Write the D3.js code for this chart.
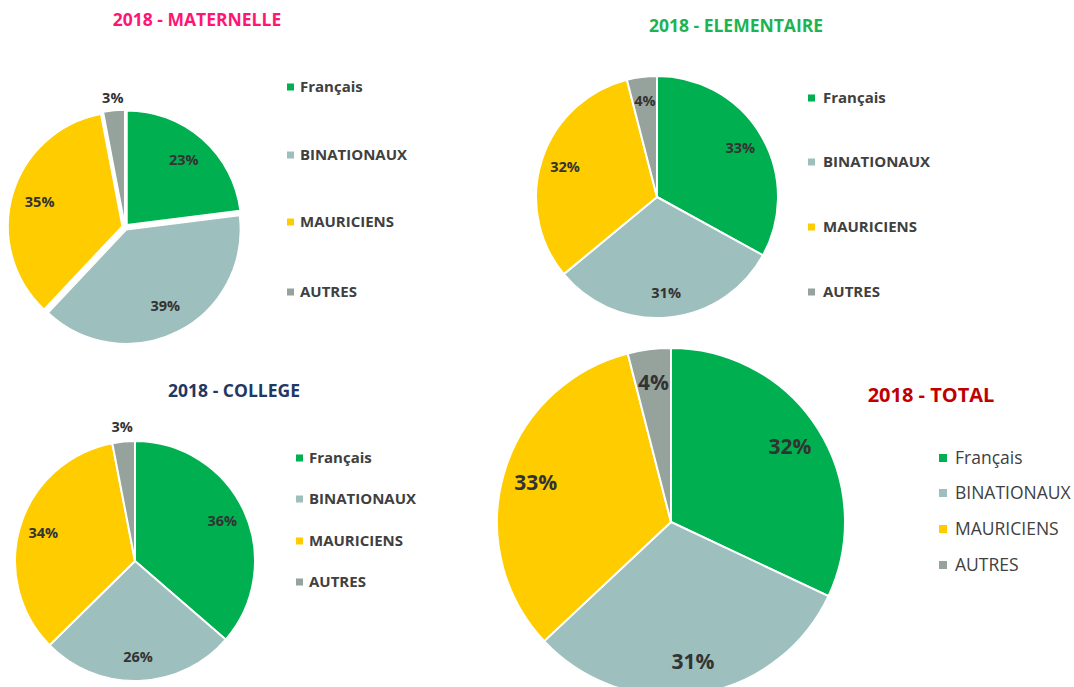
<!DOCTYPE html>
<html>
<head>
<meta charset="utf-8">
<script src="https://cdn.jsdelivr.net/npm/d3@7"></script>
<style>
    body { margin: 0; background: #fff; }
    svg { display: block; font-family: "Open Sans", sans-serif; }
</style>
</head>
<body>
<div id="chart"></div>
<script>
// DATA
const categories = ["Français", "BINATIONAUX", "MAURICIENS", "AUTRES"];
const colors = ["#00B050", "#9DBFBD", "#FFCC00", "#95A39C"];

const maternelle = [23, 39, 35, 3];
const elementaire = [33, 31, 32, 4];
const college = [36, 26, 34, 3];
const total = [32, 31, 33, 4];

const titles = ["2018 - MATERNELLE", "2018 - ELEMENTAIRE", "2018 - COLLEGE", "2018 - TOTAL"];

const svg = d3.select("#chart")
    .append("svg")
    .attr("width", 1074)
    .attr("height", 687);

const color = d3.scaleOrdinal().domain(categories).range(colors);

function drawPie(values, opt) {
    const pie = d3.pie().sort(null);
    const arcs = pie(values);
    const r = opt.r;
    const arc = d3.arc().innerRadius(0).outerRadius(r);

    const g = svg.append("g")
        .attr("transform", `translate(${opt.cx}, ${opt.cy})`);

    // slices
    g.append("g")
        .selectAll("path")
        .data(arcs)
        .enter()
        .append("path")
        .attr("d", arc)
        .attr("fill", (d, i) => color(categories[i]))
        .attr("stroke", "#fff")
        .attr("stroke-width", opt.stroke)
        .attr("transform", d => {
            const e = opt.explode || 0;
            const a = (d.startAngle + d.endAngle) / 2;
            return `translate(${Math.sin(a) * e}, ${-Math.cos(a) * e})`;
        });

    // % labels (small slices get their label outside)
    const pos = (d) => {
        const a = (d.startAngle + d.endAngle) / 2;
        const k = d.data <= 3 ? opt.outR : opt.inR;
        return [Math.sin(a) * r * k, -Math.cos(a) * r * k];
    };

    g.selectAll("text.lbl")
        .data(arcs)
        .enter()
        .append("text")
        .attr("class", "lbl")
        .attr("x", d => pos(d)[0])
        .attr("y", d => pos(d)[1])
        .attr("dy", "0.35em")
        .style("text-anchor", "middle")
        .style("font-size", opt.lblSize + "px")
        .style("font-weight", "bold")
        .style("fill", "#333")
        .text(d => d.data + "%");

    // title
    svg.append("text")
        .attr("x", opt.tx)
        .attr("y", opt.ty)
        .style("text-anchor", "middle")
        .style("font-size", opt.tSize + "px")
        .style("font-weight", "bold")
        .style("fill", opt.tColor)
        .text(opt.title);

    // legend
    const leg = svg.append("g")
        .selectAll("g")
        .data(categories)
        .enter()
        .append("g")
        .attr("transform", (d, i) => `translate(${opt.lx}, ${opt.ly[i]})`);

    leg.append("rect")
        .attr("x", 0)
        .attr("y", -opt.sq / 2)
        .attr("width", opt.sq)
        .attr("height", opt.sq)
        .attr("fill", d => color(d));

    leg.append("text")
        .attr("x", opt.sq + opt.gap)
        .attr("dy", "0.35em")
        .style("font-size", opt.lSize + "px")
        .style("font-weight", opt.lWeight)
        .style("fill", "#404040")
        .text(d => d);
}

drawPie(maternelle, {
    cx: 125, cy: 227, r: 114, explode: 3, stroke: 1.5,
    inR: 0.78, outR: 1.14, lblSize: 14.5,
    title: titles[0], tx: 197, ty: 26, tSize: 17.5, tColor: "#FF1675",
    lx: 287, ly: [87, 155, 222, 292], sq: 7, gap: 6, lSize: 15, lWeight: "bold"
});

drawPie(elementaire, {
    cx: 657, cy: 197, r: 121, stroke: 2,
    inR: 0.8, outR: 1.14, lblSize: 14.5,
    title: titles[1], tx: 736, ty: 32, tSize: 17.5, tColor: "#1DB352",
    lx: 808, ly: [98, 162, 227, 292], sq: 7, gap: 8, lSize: 15, lWeight: "bold"
});

drawPie(college, {
    cx: 135, cy: 561, r: 120, stroke: 2,
    inR: 0.8, outR: 1.12, lblSize: 14.5,
    title: titles[2], tx: 234, ty: 397, tSize: 17.5, tColor: "#1F3864",
    lx: 296, ly: [458, 499, 541, 582], sq: 7, gap: 6, lSize: 15, lWeight: "bold"
});

drawPie(total, {
    cx: 671, cy: 522, r: 174, stroke: 2,
    inR: 0.81, outR: 1.14, lblSize: 21,
    title: titles[3], tx: 931, ty: 402, tSize: 20, tColor: "#C00000",
    lx: 939, ly: [458, 493, 529, 565], sq: 8, gap: 8, lSize: 17.5, lWeight: "normal"
});
</script>
</body>
</html>
